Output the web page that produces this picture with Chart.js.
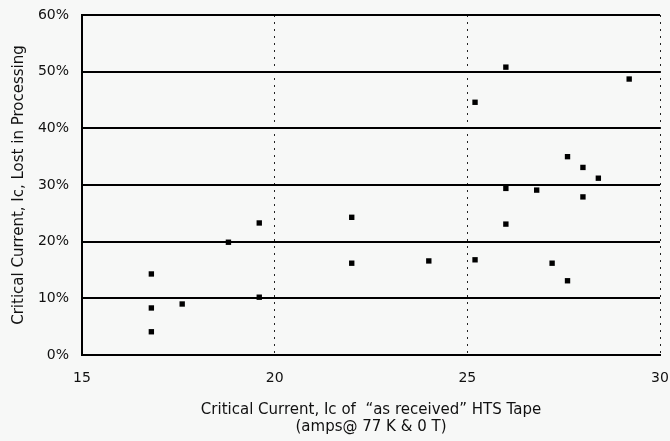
<!DOCTYPE html>
<html>
<head>
<meta charset="utf-8">
<script src="https://cdn.jsdelivr.net/npm/chart.js@4"></script>
<style>
  html, body { margin: 0; padding: 0; background: #f7f8f7; }
  #wrap { width: 670px; height: 441px; }
</style>
</head>
<body>
<div id="wrap"><canvas id="myChart1"></canvas></div>
<script>
// critical current of as-received tape (amps) and % lost in processing
let icReceived = [16.8, 16.8, 16.8, 17.6, 18.8, 19.6, 19.6, 22.0, 22.0, 24.0, 25.2, 25.2, 26.0, 26.0, 26.0, 26.8, 27.2, 27.6, 27.6, 28.0, 28.0, 28.4, 29.2];
let icLost = [14.3, 8.3, 4.1, 9.0, 19.9, 23.3, 10.2, 24.3, 16.2, 16.6, 16.8, 44.6, 50.8, 29.4, 23.1, 29.1, 16.2, 35.0, 13.1, 33.1, 27.9, 31.2, 48.7];
let xTicks = [15, 20, 25, 30];

let points = icReceived.map((v, i) => ({x: v, y: icLost[i]}));

let ctx = document.getElementById('myChart1').getContext('2d');
let font = 'DejaVu Sans, Verdana, sans-serif';

let myChart1 = new Chart(ctx, {
    type: 'scatter',
    data: {
        datasets: [{
            data: points,
            backgroundColor: '#000',
            borderColor: '#000',
            pointStyle: 'rect',
            pointRadius: 3.8,
            borderWidth: 0
        }]
    },
    options: {
        responsive: true,
        maintainAspectRatio: false,
        animation: false,
        layout: { padding: 0 },
        plugins: { legend: { display: false }, tooltip: { enabled: false } },
        scales: {
            x: {
                type: 'linear',
                min: 15,
                max: 30,
                afterBuildTicks: (s) => { s.ticks = xTicks.map(v => ({value: v})); },
                afterFit: (s) => { s.height = 86; s.paddingRight = 10; s.paddingLeft = 0; },
                ticks: { color: '#111', padding: 15, font: { family: font, size: 14 } },
                grid: {
                    drawTicks: false,
                    lineWidth: 1,
                    color: (c) => (c.tick && c.tick.value > 15) ? '#222' : 'rgba(0,0,0,0)'
                },
                border: { color: '#000', width: 2, dash: [2, 5] },
                title: {
                    display: true,
                    text: ['Critical Current, Ic of  \u201cas received\u201d HTS Tape', '(amps@ 77 K & 0 T)'],
                    color: '#111',
                    font: { family: font, size: 15, lineHeight: 1.15 },
                    padding: { top: 0, bottom: 5 }
                }
            },
            y: {
                min: 0,
                max: 60,
                afterFit: (s) => { s.width = 82; s.paddingTop = 15; s.paddingBottom = 0; },
                ticks: { stepSize: 10, color: '#111', padding: 13, font: { family: font, size: 14 },
                    callback: (v) => v + '%' },
                grid: { drawTicks: false, lineWidth: 2, color: '#000' },
                border: { color: '#000', width: 2 },
                title: {
                    display: true,
                    text: 'Critical Current, Ic, Lost in Processing',
                    color: '#111',
                    font: { family: font, size: 15, lineHeight: 1.2 },
                    padding: { top: 10, bottom: 0 }
                }
            }
        }
    }
});
</script>
</body>
</html>
